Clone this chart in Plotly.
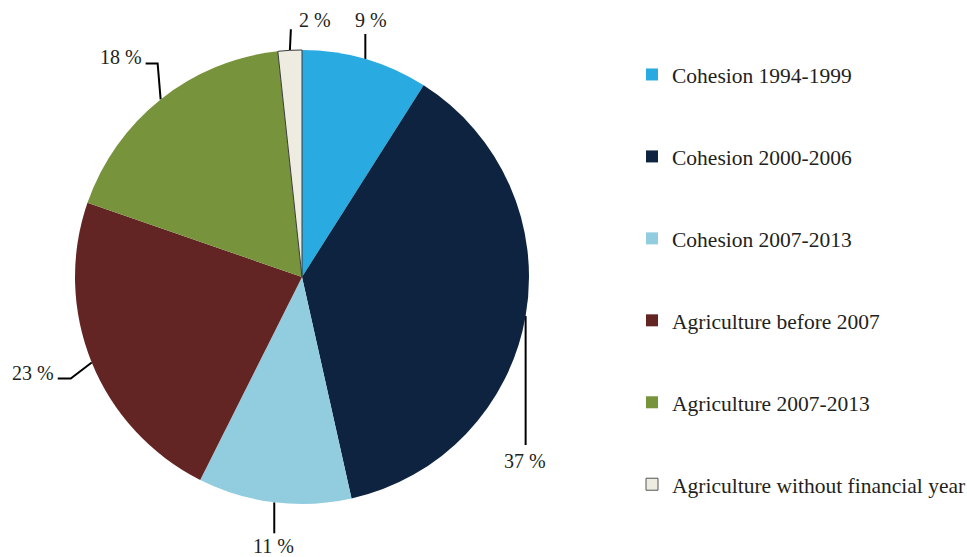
import math
import plotly.graph_objects as go

# data
categories = ["Cohesion 1994-1999", "Cohesion 2000-2006", "Cohesion 2007-2013",
              "Agriculture before 2007", "Agriculture 2007-2013",
              "Agriculture without financial year"]
shares = [9.0, 37.5, 10.9, 22.9, 18.0, 1.7]
pct_labels = ["9 %", "37 %", "11 %", "23 %", "18 %", "2 %"]
colors = ["#29ABE2", "#0E2340", "#92CDDF", "#632523", "#77933C", "#EEECE1"]

W, H = 967, 557
CX, CY, R = 302, 277, 227
FONT = "Liberation Serif"
TXT = "#231F20"

# leader line bends and label offsets, in px relative to the slice's edge midpoint
leaders = [
    dict(path=[(0, -25)], text=(6, -39), anchor="center"),
    dict(path=[(0, 129)], text=(-1, 145), anchor="center"),
    dict(path=[(0, 31)], text=(-1, 44), anchor="center"),
    dict(path=[(-21, 16), (-34, 16)], text=(-36, 10), anchor="right"),
    dict(path=[(-3, -36), (-15, -36)], text=(-17, -42), anchor="right"),
    dict(path=[(1, -21)], text=(7, -30), anchor="left"),
]

fig = go.Figure()

fig.add_trace(go.Pie(
    labels=categories, values=shares, sort=False, direction="clockwise",
    rotation=0, textinfo="none", hoverinfo="label+percent", showlegend=False,
    marker=dict(colors=colors, line=dict(color="#3a3a3a", width=[0, 0, 0, 0, 0, 1])),
    domain=dict(x=[(CX - R) / W, (CX + R) / W], y=[1 - (CY + R) / H, 1 - (CY - R) / H]),
))

total = sum(shares)
cum = 0
annotations = []
for v, lab, ld in zip(shares, pct_labels, leaders):
    mid = (cum + v / 2) / total * 2 * math.pi
    cum += v
    ex, ey = CX + R * math.sin(mid), CY - R * math.cos(mid)
    xs = [ex] + [ex + dx for dx, dy in ld["path"]]
    ys = [ey] + [ey + dy for dx, dy in ld["path"]]
    fig.add_trace(go.Scatter(x=xs, y=ys, mode="lines", showlegend=False, hoverinfo="skip",
                             line=dict(color="black", width=2)))
    annotations.append(dict(x=ex + ld["text"][0], y=ey + ld["text"][1], xref="x", yref="y",
                            text=lab, showarrow=False, xanchor=ld["anchor"], yanchor="middle",
                            font=dict(family=FONT, size=20, color=TXT)))

# legend entries
for i, (c, col) in enumerate(zip(categories, colors)):
    fig.add_trace(go.Scatter(
        x=[None], y=[None], mode="markers", name=c, legendgroup=str(i),
        marker=dict(symbol="square", size=12, color=col,
                    line=dict(color="#555555", width=1 if i == 5 else 0)),
    ))

fig.update_layout(
    width=W, height=H, margin=dict(l=0, r=0, t=0, b=0, autoexpand=False),
    paper_bgcolor="white", plot_bgcolor="white",
    xaxis=dict(range=[0, W], visible=False, fixedrange=True),
    yaxis=dict(range=[H, 0], visible=False, fixedrange=True),
    annotations=annotations,
    legend=dict(x=632 / W, y=1 - 54 / H, xanchor="left", yanchor="top",
                tracegroupgap=51, bgcolor="rgba(0,0,0,0)",
                font=dict(family=FONT, size=21.5, color=TXT)),
)

fig.write_html("out.html", config={"displayModeBar": False},
               post_script="document.body.style.margin='0';")
